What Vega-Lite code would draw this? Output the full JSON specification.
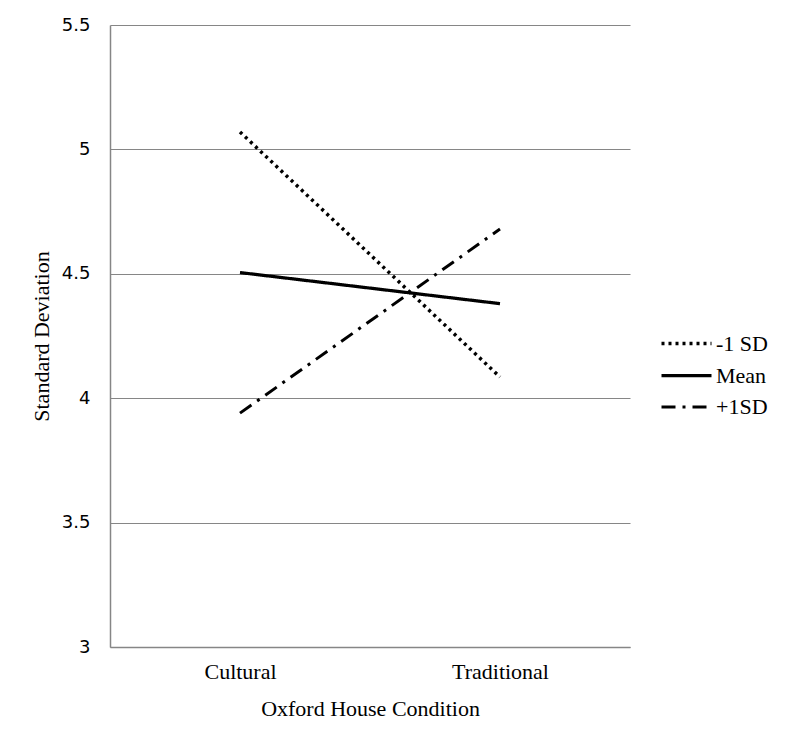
{
  "$schema": "https://vega.github.io/schema/vega-lite/v6.json",
  "autosize": {"type": "none"},
  "padding": {"left": 110, "top": 25, "right": 170, "bottom": 104},
  "width": 520,
  "height": 622,
  "background": "white",
  "data": {"values": [
    {"condition": "Cultural", "series": "-1 SD", "value": 5.07},
    {"condition": "Traditional", "series": "-1 SD", "value": 4.085},
    {"condition": "Cultural", "series": "Mean", "value": 4.505},
    {"condition": "Traditional", "series": "Mean", "value": 4.38},
    {"condition": "Cultural", "series": "+1SD", "value": 3.94},
    {"condition": "Traditional", "series": "+1SD", "value": 4.68}
  ]},
  "mark": {"type": "line", "color": "black", "strokeCap": "butt"},
  "encoding": {
    "x": {
      "field": "condition", "type": "nominal",
      "scale": {"type": "point", "padding": 0.5},
      "axis": {
        "title": "Oxford House Condition", "labelAngle": 0,
        "labelFont": "Liberation Serif", "labelFontSize": 22, "labelColor": "black",
        "titleFont": "Liberation Serif", "titleFontSize": 22, "titleFontWeight": "normal", "titleColor": "black",
        "labelPadding": 14, "titlePadding": 16,
        "ticks": false, "domainColor": "#868686", "domainWidth": 1.5, "grid": false
      }
    },
    "y": {
      "field": "value", "type": "quantitative",
      "scale": {"domain": [3, 5.5], "nice": false, "zero": false},
      "axis": {
        "title": "Standard Deviation", "values": [3, 3.5, 4, 4.5, 5, 5.5], "format": "~g",
        "labelFont": "DejaVu Sans", "labelFontSize": 18, "labelColor": "black",
        "titleFont": "Liberation Serif", "titleFontSize": 22, "titleFontWeight": "normal", "titleColor": "black",
        "labelPadding": 20, "titlePadding": 8,
        "ticks": false, "domainColor": "#868686", "domainWidth": 1.5,
        "grid": true, "gridColor": "#868686", "gridWidth": 1.2
      }
    },
    "strokeDash": {
      "field": "series", "type": "nominal",
      "scale": {"domain": ["-1 SD", "Mean", "+1SD"], "range": [[3, 4], [1, 0], [14, 7, 3, 7]]},
      "legend": {
        "title": null, "orient": "none", "legendX": 562, "legendY": 304,
        "symbolType": "M-2,0H2", "symbolSize": 625, "symbolStrokeColor": "black", "symbolFillColor": "transparent",
        "labelFont": "Liberation Serif", "labelFontSize": 22, "labelColor": "black",
        "labelOffset": 15, "rowPadding": 6
      }
    },
    "strokeWidth": {
      "field": "series", "type": "nominal",
      "scale": {"domain": ["-1 SD", "Mean", "+1SD"], "range": [3.5, 3, 3.5]},
      "legend": null
    }
  },
  "config": {"view": {"stroke": null}}
}
